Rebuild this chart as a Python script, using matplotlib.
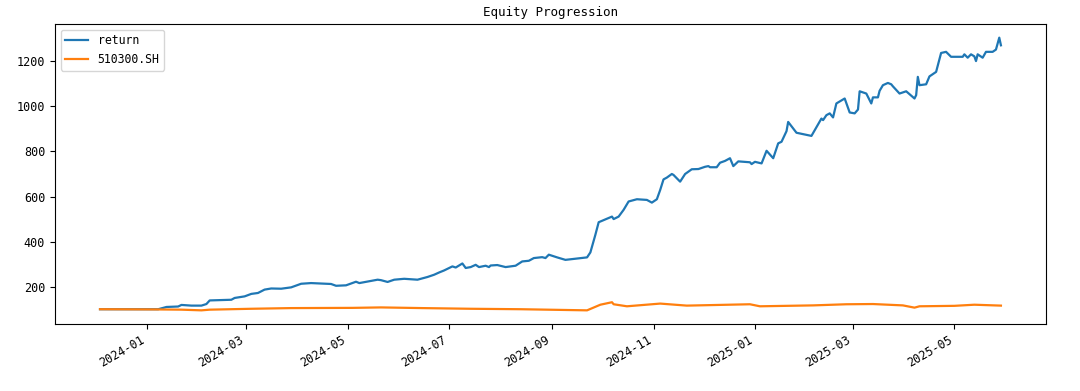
import matplotlib
matplotlib.use("Agg")
import matplotlib.pyplot as plt
import matplotlib.dates as mdates
import pandas as pd

plt.rcParams['font.family'] = ['DejaVu Sans Mono', 'Noto Sans CJK SC']

ret_dates = [
    "2023-12-04", "2024-01-08", "2024-01-13", "2024-01-20", "2024-01-22", "2024-01-28",
    "2024-02-03", "2024-02-06", "2024-02-08", "2024-02-21", "2024-02-23", "2024-02-29",
    "2024-03-04", "2024-03-08", "2024-03-12", "2024-03-16", "2024-03-22", "2024-03-28",
    "2024-04-03", "2024-04-09", "2024-04-21", "2024-04-24", "2024-04-30", "2024-05-06",
    "2024-05-08", "2024-05-13", "2024-05-19", "2024-05-21", "2024-05-25", "2024-05-29",
    "2024-06-04", "2024-06-12", "2024-06-18", "2024-06-22", "2024-06-25", "2024-06-28",
    "2024-07-03", "2024-07-05", "2024-07-09", "2024-07-11", "2024-07-14", "2024-07-17",
    "2024-07-19", "2024-07-23", "2024-07-25", "2024-07-26", "2024-07-30", "2024-08-04",
    "2024-08-10", "2024-08-14", "2024-08-18", "2024-08-21", "2024-08-26", "2024-08-28",
    "2024-08-30", "2024-09-04", "2024-09-09", "2024-09-22", "2024-09-24", "2024-09-27",
    "2024-09-29", "2024-10-07", "2024-10-08", "2024-10-11", "2024-10-14", "2024-10-17",
    "2024-10-22", "2024-10-28", "2024-10-31", "2024-11-03", "2024-11-05", "2024-11-07",
    "2024-11-09", "2024-11-12", "2024-11-13", "2024-11-17", "2024-11-20", "2024-11-24",
    "2024-11-28", "2024-12-02", "2024-12-04", "2024-12-05", "2024-12-09", "2024-12-11",
    "2024-12-14", "2024-12-17", "2024-12-19", "2024-12-22", "2024-12-29", "2024-12-30",
    "2025-01-01", "2025-01-05", "2025-01-08", "2025-01-12", "2025-01-15", "2025-01-17",
    "2025-01-20", "2025-01-21", "2025-01-26", "2025-02-04", "2025-02-10", "2025-02-11",
    "2025-02-13", "2025-02-15", "2025-02-17", "2025-02-19", "2025-02-24", "2025-02-27",
    "2025-03-02", "2025-03-04", "2025-03-05", "2025-03-09", "2025-03-12", "2025-03-13",
    "2025-03-16", "2025-03-17", "2025-03-19", "2025-03-22", "2025-03-24", "2025-03-25",
    "2025-03-29", "2025-04-02", "2025-04-07", "2025-04-08", "2025-04-09", "2025-04-10",
    "2025-04-14", "2025-04-16", "2025-04-20", "2025-04-23", "2025-04-26", "2025-04-29",
    "2025-05-06", "2025-05-07", "2025-05-09", "2025-05-11", "2025-05-13", "2025-05-14",
    "2025-05-15", "2025-05-18", "2025-05-20", "2025-05-24", "2025-05-26", "2025-05-28",
    "2025-05-29",
]
ret_values = [
    100, 100, 110, 112, 119, 116,
    116, 123, 139, 142, 150, 157,
    168, 172, 187, 192, 191, 197,
    213, 216, 212, 204, 206, 222,
    216, 223, 231, 229, 221, 231,
    235, 231, 243, 253, 263, 272,
    290, 285, 303, 283, 287, 297,
    287, 293, 287, 294, 296, 287,
    293, 312, 315, 327, 331, 327,
    342, 330, 319, 330, 352, 430,
    486, 511, 500, 511, 541, 578,
    588, 585, 573, 588, 629, 676,
    684, 700, 696, 666, 700, 721,
    722, 732, 735, 730, 730, 750,
    758, 770, 735, 756, 752, 744,
    754, 747, 803, 770, 836, 843,
    890, 931, 883, 869, 946, 939,
    961, 969, 951, 1013, 1035, 973,
    969, 986, 1067, 1057, 1013, 1040,
    1040, 1069, 1094, 1104, 1098, 1089,
    1057, 1067, 1035, 1050, 1131, 1094,
    1098, 1133, 1153, 1237, 1242, 1220,
    1220, 1231, 1216, 1231, 1222, 1201,
    1231, 1216, 1242, 1242, 1252, 1305,
    1271,
]

bench_dates = [
    "2023-12-04", "2024-01-08", "2024-01-22", "2024-02-03", "2024-02-08", "2024-03-04",
    "2024-03-28", "2024-05-04", "2024-05-21", "2024-06-15", "2024-07-14", "2024-08-13",
    "2024-09-22", "2024-09-30", "2024-10-07", "2024-10-08", "2024-10-16", "2024-11-05",
    "2024-11-21", "2024-12-29", "2025-01-04", "2025-02-05", "2025-02-25", "2025-03-13",
    "2025-03-31", "2025-04-07", "2025-04-10", "2025-05-01", "2025-05-13", "2025-05-29",
]
bench_values = [
    100, 99, 98, 95, 98, 102,
    105, 106, 108, 105, 102, 100,
    95, 120, 131, 122, 113, 125,
    116, 122, 113, 117, 122, 123,
    117, 107, 113, 115, 120, 116,
]

fig = plt.figure(figsize=(10.8, 3.91), dpi=100)
ax = fig.add_axes([0.0509, 0.1714, 0.9176, 0.7672])

ax.plot(pd.to_datetime(ret_dates), ret_values, label="return", linewidth=1.6)
ax.plot(pd.to_datetime(bench_dates), bench_values, label="510300.SH", linewidth=1.6)

ax.set_title("Equity Progression", fontsize=9)
ax.xaxis.set_major_locator(mdates.MonthLocator(bymonth=[1, 3, 5, 7, 9, 11]))
ax.xaxis.set_major_formatter(mdates.DateFormatter("%Y-%m"))
for lbl in ax.get_xticklabels():
    lbl.set_rotation(30)
    lbl.set_ha("right")
ax.tick_params(labelsize=8.5)
ax.legend(loc="upper left", fontsize=8.3)

fig.savefig("out.png", dpi=100)
